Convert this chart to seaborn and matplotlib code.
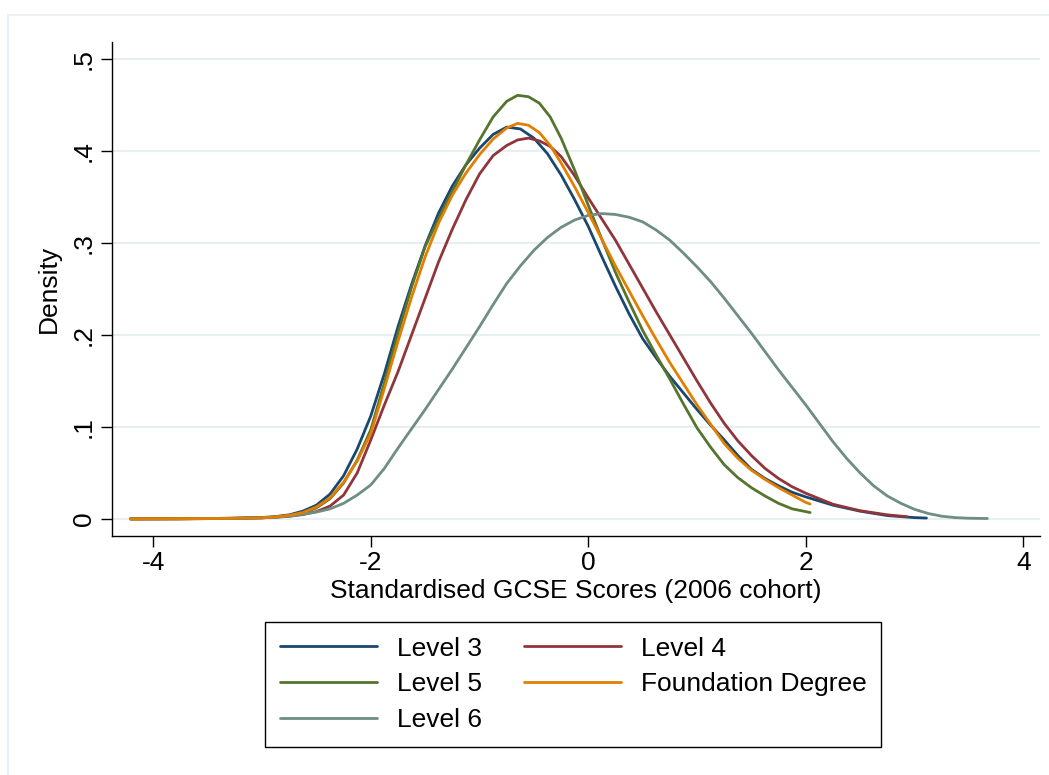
import matplotlib
matplotlib.use("Agg")
import matplotlib.pyplot as plt
from matplotlib.lines import Line2D
from matplotlib.patches import Rectangle
import pandas as pd
import seaborn as sns

# Kernel density estimates of standardised GCSE scores by qualification level
level3_x = [-4.21, -3.75, -3.5, -3.25, -3.0, -2.875, -2.75, -2.625, -2.5, -2.375, -2.25, -2.125,
            -2.0, -1.875, -1.75, -1.625, -1.5, -1.375, -1.25, -1.125, -1.0, -0.875, -0.75, -0.625,
            -0.5, -0.375, -0.25, -0.125, 0.0, 0.125, 0.25, 0.375, 0.5, 0.625, 0.75, 0.875, 1.0,
            1.125, 1.25, 1.375, 1.5, 1.625, 1.75, 1.875, 2.0, 2.25, 2.5, 2.75, 3.0, 3.11]
level3_y = [0.0001, 0.0003, 0.0005, 0.0009, 0.0016, 0.0026, 0.0045, 0.0085, 0.015, 0.027, 0.047, 0.076,
            0.112, 0.158, 0.209, 0.255, 0.297, 0.333, 0.362, 0.385, 0.403, 0.418, 0.426, 0.424,
            0.414, 0.397, 0.374, 0.347, 0.318, 0.285, 0.253, 0.223, 0.196, 0.175, 0.155, 0.137, 0.119,
            0.102, 0.086, 0.069, 0.054, 0.044, 0.036, 0.029, 0.024, 0.015, 0.0085, 0.0037, 0.0015, 0.001]

level4_x = [-4.21, -3.75, -3.5, -3.25, -3.0, -2.875, -2.75, -2.625, -2.5, -2.375, -2.25, -2.125,
            -2.0, -1.875, -1.75, -1.625, -1.5, -1.375, -1.25, -1.125, -1.0, -0.875, -0.75, -0.65,
            -0.55, -0.45, -0.35, -0.25, -0.125, 0.0, 0.125, 0.25, 0.375, 0.5, 0.625, 0.75, 0.875,
            1.0, 1.125, 1.25, 1.375, 1.5, 1.625, 1.75, 1.875, 2.0, 2.25, 2.5, 2.75, 2.93]
level4_y = [0.0001, 0.0002, 0.0004, 0.0007, 0.0012, 0.0019, 0.003, 0.0048, 0.008, 0.014, 0.026, 0.050,
            0.086, 0.124, 0.160, 0.200, 0.240, 0.280, 0.315, 0.347, 0.375, 0.395, 0.406, 0.412,
            0.414, 0.411, 0.405, 0.394, 0.373, 0.349, 0.326, 0.303, 0.277, 0.251, 0.225, 0.200, 0.175,
            0.150, 0.126, 0.104, 0.085, 0.069, 0.055, 0.044, 0.035, 0.028, 0.016, 0.009, 0.0045, 0.0025]

level5_x = [-4.21, -3.75, -3.5, -3.25, -3.0, -2.875, -2.75, -2.625, -2.5, -2.375, -2.25, -2.125,
            -2.0, -1.875, -1.75, -1.625, -1.5, -1.375, -1.25, -1.125, -1.0, -0.875, -0.75, -0.65,
            -0.55, -0.45, -0.35, -0.25, -0.125, 0.0, 0.125, 0.25, 0.375, 0.5, 0.625, 0.75, 0.875,
            1.0, 1.125, 1.25, 1.375, 1.5, 1.625, 1.75, 1.875, 2.0, 2.04]
level5_y = [0.0001, 0.0002, 0.0004, 0.0007, 0.0013, 0.0021, 0.0036, 0.0065, 0.012, 0.022, 0.039, 0.064,
            0.097, 0.148, 0.202, 0.252, 0.296, 0.327, 0.356, 0.385, 0.412, 0.437, 0.454, 0.4605,
            0.459, 0.452, 0.437, 0.414, 0.379, 0.341, 0.304, 0.268, 0.236, 0.205, 0.178, 0.152, 0.125,
            0.099, 0.078, 0.059, 0.045, 0.034, 0.025, 0.017, 0.011, 0.008, 0.007]

level6_x = [-4.21, -3.75, -3.5, -3.25, -3.0, -2.75, -2.5, -2.375, -2.25, -2.125, -2.0, -1.875,
            -1.75, -1.625, -1.5, -1.375, -1.25, -1.125, -1.0, -0.875, -0.75, -0.625, -0.5, -0.375,
            -0.25, -0.125, 0.0, 0.125, 0.25, 0.375, 0.5, 0.625, 0.75, 0.875, 1.0, 1.125, 1.25,
            1.375, 1.5, 1.625, 1.75, 1.875, 2.0, 2.125, 2.25, 2.375, 2.5, 2.625, 2.75, 2.875,
            3.0, 3.125, 3.25, 3.375, 3.5, 3.67]
level6_y = [0.0002, 0.0003, 0.0005, 0.0008, 0.0013, 0.003, 0.0075, 0.011, 0.017, 0.026, 0.037, 0.055,
            0.077, 0.098, 0.119, 0.141, 0.163, 0.186, 0.209, 0.233, 0.256, 0.275, 0.292, 0.306,
            0.317, 0.325, 0.330, 0.332, 0.331, 0.328, 0.323, 0.314, 0.303, 0.289, 0.274, 0.258, 0.240,
            0.221, 0.202, 0.182, 0.162, 0.143, 0.124, 0.104, 0.084, 0.066, 0.050, 0.036, 0.025, 0.017,
            0.0105, 0.006, 0.003, 0.0015, 0.0008, 0.0005]

found_x = [-4.21, -3.75, -3.5, -3.25, -3.0, -2.875, -2.75, -2.625, -2.5, -2.375, -2.25, -2.125,
           -2.0, -1.875, -1.75, -1.625, -1.5, -1.375, -1.25, -1.125, -1.0, -0.875, -0.75, -0.65,
           -0.55, -0.45, -0.35, -0.25, -0.125, 0.0, 0.125, 0.25, 0.375, 0.5, 0.625, 0.75, 0.875,
           1.0, 1.125, 1.25, 1.375, 1.5, 1.625, 1.75, 1.875, 2.0, 2.04]
found_y = [0.0001, 0.0002, 0.0004, 0.0007, 0.0013, 0.0022, 0.004, 0.007, 0.013, 0.023, 0.040, 0.063,
           0.093, 0.142, 0.193, 0.241, 0.285, 0.322, 0.352, 0.376, 0.396, 0.413, 0.425, 0.430,
           0.428, 0.420, 0.406, 0.387, 0.361, 0.333, 0.304, 0.275, 0.248, 0.221, 0.195, 0.170, 0.147,
           0.124, 0.103, 0.082, 0.066, 0.053, 0.043, 0.034, 0.026, 0.018, 0.0163]

series_names = ["Level 3", "Level 4", "Level 5", "Level 6", "Foundation Degree"]
series_x = [level3_x, level4_x, level5_x, level6_x, found_x]
series_y = [level3_y, level4_y, level5_y, level6_y, found_y]
series_colors = ["#1a476f", "#90353b", "#55752f", "#6e8e84", "#e37e00"]

x_ticks = [-4, -2, 0, 2, 4]
x_tick_labels = ["-4", "-2", "0", "2", "4"]
y_ticks = [0, 0.1, 0.2, 0.3, 0.4, 0.5]
y_tick_labels = ["0", ".1", ".2", ".3", ".4", ".5"]

frames = [pd.DataFrame({"score": xs, "density": ys, "level": name})
          for name, xs, ys in zip(series_names, series_x, series_y)]
df = pd.concat(frames, ignore_index=True)

sns.set_theme(style="white")
plt.rcParams["font.family"] = ["Liberation Sans", "DejaVu Sans"]
plt.rcParams["text.color"] = "black"

W, H = 1049, 775
fig = plt.figure(figsize=(W / 100, H / 100), dpi=100)
fig.patch.set_facecolor("white")
ax = fig.add_axes([112.3 / W, 1 - 536 / H, (1040 - 112.3) / W, (536 - 41.7) / H])

palette = dict(zip(series_names, series_colors))
sns.lineplot(data=df, x="score", y="density", hue="level", hue_order=series_names,
             palette=palette, estimator=None, sort=False, linewidth=2.0, legend=False, ax=ax)

ax.set_xlim(-4.377, 4.154)
ax.set_ylim(-0.0185, 0.5188)
ax.set_xticks(x_ticks)
ax.set_xticklabels(x_tick_labels)
ax.set_yticks(y_ticks)
ax.set_yticklabels(y_tick_labels, rotation=90, va="center")

ax.yaxis.grid(True, color="#e8eff2", linewidth=1.6)
ax.xaxis.grid(False)
ax.set_axisbelow(True)

for side in ("top", "right"):
    ax.spines[side].set_visible(False)
for side in ("left", "bottom"):
    ax.spines[side].set_color("black")
    ax.spines[side].set_linewidth(1.0)

ax.tick_params(axis="both", which="major", bottom=True, left=True, direction="out",
               length=8, width=1.0, color="black", labelsize=19, labelcolor="black")
ax.tick_params(axis="x", pad=3)
ax.tick_params(axis="y", pad=4)

ax.set_xlabel("Standardised GCSE Scores (2006 cohort)", fontsize=19, color="black", labelpad=3)
ax.set_ylabel("Density", fontsize=19, color="black", labelpad=8)

# Legend laid out row-wise: Level 3 / Level 4, Level 5 / Foundation Degree, Level 6
order = ["Level 3", "Level 5", "Level 6", "Level 4", "Foundation Degree"]
handles = [Line2D([0], [0], color=palette[n], linewidth=2.0) for n in order]
leg = fig.legend(handles, order, ncol=2, loc="upper center",
                 bbox_to_anchor=(573 / W, 1 - 622 / H), borderaxespad=0, frameon=True,
                 fancybox=False, framealpha=1, edgecolor="black", fontsize=19,
                 handlelength=3.7, handletextpad=0.73, columnspacing=1.6,
                 labelspacing=0.45, borderpad=0.55, labelcolor="black")
leg.get_frame().set_linewidth(1.0)

# Light outline of the graph region
fig.patches.append(Rectangle((8 / W, -0.5), 2.0, (1 - 15 / H) + 0.5, transform=fig.transFigure,
                             fill=False, edgecolor="#e6eef1", linewidth=1.2, zorder=0))

fig.savefig("out.png", dpi=100)
